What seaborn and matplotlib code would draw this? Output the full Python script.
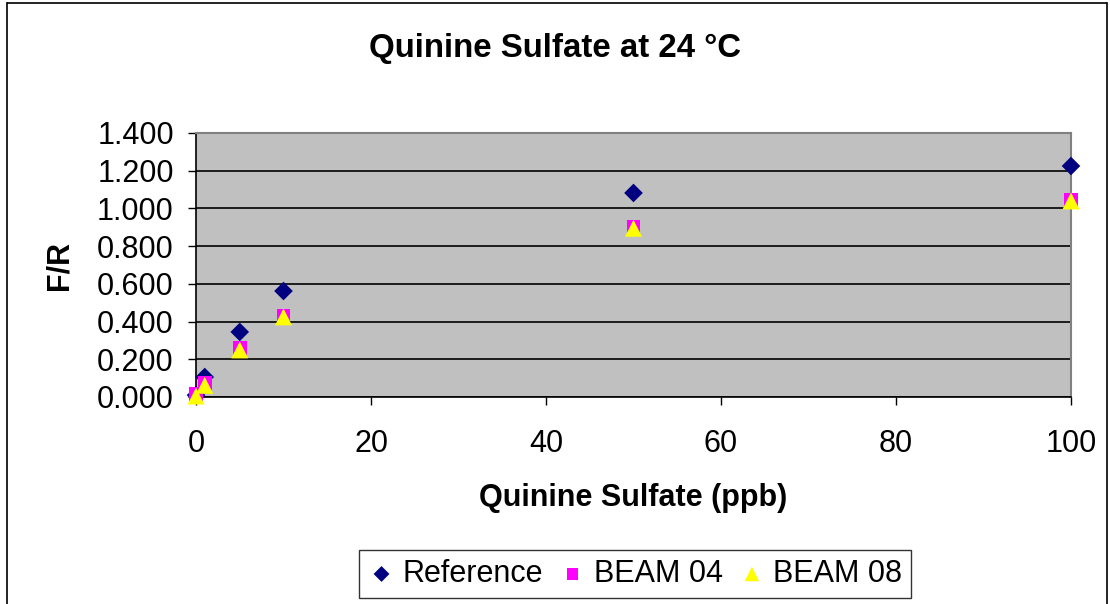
import pandas as pd
import numpy as np
import matplotlib
matplotlib.use("Agg")
import matplotlib.pyplot as plt
import seaborn as sns

# data
conc = [0, 1, 5, 10, 50, 100]
reference = [0.010, 0.106, 0.345, 0.562, 1.082, 1.225]
beam04 = [0.015, 0.074, 0.260, 0.430, 0.900, 1.045]
beam08 = [0.005, 0.062, 0.250, 0.425, 0.895, 1.040]
series_names = ["Reference", "BEAM 04", "BEAM 08"]

df = pd.DataFrame({
    "conc": conc * 3,
    "fr": reference + beam04 + beam08,
    "series": np.repeat(series_names, len(conc)),
})

sns.set_style("white")
plt.rcParams["font.family"] = ["Liberation Sans", "DejaVu Sans"]
plt.rcParams["text.color"] = "black"
plt.rcParams["axes.labelcolor"] = "black"
plt.rcParams["xtick.color"] = "black"
plt.rcParams["ytick.color"] = "black"

fig = plt.figure(figsize=(11.1, 6.04), dpi=100)
ax = fig.add_axes([196 / 1110, 1 - 397 / 604, (1071 - 196) / 1110, (397 - 133) / 604])

palette = {"Reference": "#000080", "BEAM 04": "#FF00FF", "BEAM 08": "#FFFF00"}
markers = {"Reference": "D", "BEAM 04": "s", "BEAM 08": "^"}
sizes = {"Reference": 90, "BEAM 04": 100, "BEAM 08": 150}

for name in series_names:
    sub = df[df["series"] == name]
    sns.scatterplot(data=sub, x="conc", y="fr", color=palette[name],
                    marker=markers[name], s=sizes[name], edgecolor="none",
                    label=name, ax=ax, zorder=3, clip_on=False)

ax.set_facecolor("#C0C0C0")
ax.set_xlim(0, 100)
ax.set_ylim(0, 1.4)
ax.set_xticks(np.arange(0, 101, 20))
ax.set_yticks(np.arange(0, 1.41, 0.2))
ax.set_yticklabels([f"{v:.3f}" for v in np.arange(0, 1.41, 0.2)])
ax.yaxis.grid(True, color="black", linewidth=1.2)
ax.set_axisbelow(True)
ax.tick_params(axis="both", labelsize=22, direction="out", length=6,
               width=1, left=True, bottom=True)
ax.tick_params(axis="x", pad=17)
ax.tick_params(axis="y", pad=10)
for side in ["left", "bottom"]:
    ax.spines[side].set_color("black")
    ax.spines[side].set_linewidth(1.2)
for side in ["right", "top"]:
    ax.spines[side].set_color("#808080")
    ax.spines[side].set_linewidth(1.5)

ax.set_xlabel("Quinine Sulfate (ppb)", fontsize=22, fontweight="bold", labelpad=17)
ax.set_ylabel("F/R", fontsize=22, fontweight="bold", labelpad=16)
fig.text(0.5, 1 - 48 / 604, "Quinine Sulfate at 24 \u00b0C", ha="center", va="center",
         fontsize=23.8, fontweight="bold")

handles, labels = ax.get_legend_handles_labels()
ax.get_legend().remove()
leg = fig.legend(handles, labels, loc="center", bbox_to_anchor=(635 / 1110, 1 - 574 / 604),
                 ncol=3, fontsize=22, frameon=True, fancybox=False, edgecolor="black",
                 handletextpad=0.25, columnspacing=0.5, handlelength=0.9, borderpad=0.3,
                 markerscale=0.85)
leg.get_frame().set_linewidth(1.0)

# outer chart border (bottom edge is cut off in the reference)
for xs, ys in [([7, 7], [604, 3]), ([7, 1107], [3, 3]), ([1107, 1107], [3, 604])]:
    fig.add_artist(plt.Line2D([x / 1110 for x in xs], [1 - y / 604 for y in ys],
                              transform=fig.transFigure, color="black", linewidth=1.2))

fig.savefig("out.png", dpi=100)
